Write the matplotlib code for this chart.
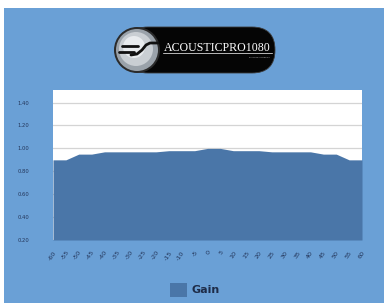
import matplotlib
matplotlib.use("Agg")
import matplotlib.pyplot as plt
from matplotlib.patches import Rectangle, Circle, FancyBboxPatch

# angle (deg) vs screen gain
angles = [-60, -55, -50, -45, -40, -35, -30, -25, -20, -15, -10, -5, 0,
          5, 10, 15, 20, 25, 30, 35, 40, 45, 50, 55, 60]
gain = [0.90, 0.90, 0.95, 0.95, 0.97, 0.97, 0.97, 0.97, 0.97, 0.98, 0.98, 0.98, 1.00,
        1.00, 0.98, 0.98, 0.98, 0.97, 0.97, 0.97, 0.97, 0.95, 0.95, 0.90, 0.90]
yticks = [0.20, 0.40, 0.60, 0.80, 1.00, 1.20, 1.40]

bg = "#6aa0d6"
fill_col = "#4a76a8"
txt_col = "#24365a"

W, H = 384, 303
fig = plt.figure(figsize=(W / 100, H / 100), dpi=100, facecolor=bg)

###Main chart area########
ax = fig.add_axes([53 / W, 1 - 240 / H, (362 - 53) / W, (240 - 90) / H])
ax.set_facecolor("white")
x = list(range(len(angles)))
ax.fill_between(x, 0.2, gain, color=fill_col, lw=0, zorder=2)
ax.set_xlim(0, len(angles) - 1)
ax.set_ylim(0.2, 1.51)
ax.set_yticks(yticks)
ax.set_yticklabels(["%.2f" % v for v in yticks], fontsize=3.8, color=txt_col)
ax.yaxis.grid(True, color="#d4d4d4", lw=0.9, zorder=1)
ax.set_axisbelow(True)
ax.set_xticks(x)
ax.set_xticklabels([str(a) for a in angles], fontsize=4.6, color=txt_col,
                   rotation=55, ha="right", rotation_mode="anchor")
ax.tick_params(axis="y", length=0, pad=17)
ax.tick_params(axis="x", length=0, pad=7)
for s in ax.spines.values():
    s.set_visible(False)

###Overlay for border, logo and legend (pixel coords)########
top = fig.add_axes([0, 0, 1, 1], zorder=5)
top.set_xlim(0, W)
top.set_ylim(H, 0)
top.axis("off")
top.patch.set_alpha(0)

top.add_patch(Rectangle((0, 0), W, 8, color="white", lw=0))
top.add_patch(Rectangle((0, 0), 4, H, color="white", lw=0))

# logo pill
top.add_patch(FancyBboxPatch((125, 27), 150, 46, boxstyle="round,pad=0,rounding_size=23",
                             fc="#050505", ec="#3a3a3a", lw=0.6))
top.add_patch(Circle((137, 50), 23, fc="#2b2b2b", ec="none"))
top.add_patch(Circle((137, 50), 21, fc="#9aa2aa", ec="none"))
top.add_patch(Circle((136, 49), 17, fc="#c9ced3", ec="none"))
top.add_patch(Circle((134, 47), 11, fc="#e8ebee", ec="none"))
# ES mark
top.plot([122, 138], [45.5, 45.5], color="#111111", lw=2.0, solid_capstyle="round")
top.plot([119, 134], [51.5, 51.5], color="#111111", lw=2.0, solid_capstyle="round")
top.plot([131, 137, 142, 146, 150, 158], [55, 54, 50, 45, 43, 43], color="#111111",
         lw=2.0, solid_capstyle="round")
top.text(217, 51, "ACOUSTICPRO1080", color="white", fontsize=8.6,
         family="Liberation Serif", ha="center", va="baseline")
top.plot([163, 272], [53, 53], color="white", lw=0.5)
top.text(270, 57, "BY ELITE SCREENS", color="#bbbbbb", fontsize=1.6,
         family="DejaVu Sans", ha="right", va="center")

# legend
top.add_patch(Rectangle((170, 283), 17, 14, fc=fill_col, ec="none"))
top.text(192, 290, "Gain", fontsize=8, fontweight="bold", color="#1e2c48",
         ha="left", va="center")

fig.savefig("out.png", dpi=100, facecolor=bg)
